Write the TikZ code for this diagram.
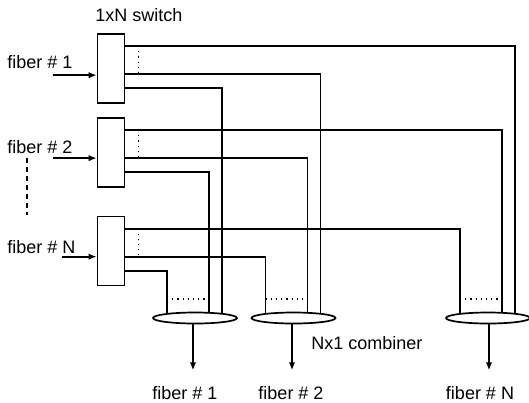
\documentclass[tikz,border=0pt]{standalone}
\usepackage{fontspec}
\setmainfont{Liberation Sans}
\usepackage{tikz}
\usetikzlibrary{arrows.meta,calc,shapes.geometric}
\pgfdeclarelayer{background}
\pgfsetlayers{background,main}
\tikzset{
  switchbox/.style={rectangle, draw, line width=0.85pt, fill=white,
                    minimum width=13.5pt, minimum height=34.5pt, inner sep=0pt},
  comb/.style={ellipse, draw, line width=0.85pt, fill=white,
               minimum width=42pt, minimum height=5.5pt, inner sep=0pt},
  fib/.style={line width=0.85pt},
  arr/.style={-{Latex[length=4pt,width=3.2pt]}, line width=0.85pt},
  port/.style={dotted, line width=0.6pt},
  lbl/.style={font=\fontsize{9}{11}\selectfont, inner sep=0pt},
}

\begin{document}
\begin{tikzpicture}[x=0.5pt, y=-0.5pt]
    \useasboundingbox (0,0) rectangle (529,402);
    % switches
    \node[switchbox] (sw1) at (111,68.5) {};
    \node[switchbox] (sw2) at (111,152.5) {};
    \node[switchbox] (swN) at (111,251) {};
    \node[lbl] (tsw) at (139,15) {1xN switch};
    % combiners
    \node[comb] (c1) at (195,318) {};
    \node[comb] (c2) at (293.5,318) {};
    \node[comb] (cN) at (488,318) {};
    \node[lbl] (tcomb) at (367,343) {Nx1 combiner};
    % input fibers
    \node[lbl, anchor=west] (in1) at (7,62) {fiber \# 1};
    \node[lbl, anchor=west] (in2) at (7,147) {fiber \# 2};
    \node[lbl, anchor=west] (inN) at (7,247) {fiber \# N};
    \draw[arr] ($(sw1.north west)+(-44,42)$) -- ($(sw1.north west)+(0,42)$);
    \draw[arr] ($(sw2.north west)+(-44,41)$) -- ($(sw2.north west)+(0,41)$);
    \draw[arr] ($(swN.north west)+(-35,41)$) -- ($(swN.north west)+(0,41)$);
    \draw[fib, dash pattern=on 2.5pt off 2pt] (27,158) -- (27,215);
    % output fibers
    \node[lbl] (o1) at (185,393) {fiber \# 1};
    \node[lbl] (o2) at (291,393) {fiber \# 2};
    \node[lbl] (oN) at (480,393) {fiber \# N};
    \draw[arr] ($(c1.south)+(-2,0)$) -- ++(0,46);
    \draw[arr] ($(c2.south)+(-1.5,0)$) -- ++(0,46);
    \draw[arr] ($(cN.south)+(1,0)$) -- ++(0,46);
    % switch outputs to combiners
    \begin{pgfonlayer}{background}
      \foreach \sw/\dx in {sw1/27, sw2/14, swN/-28} {
        \draw[fib] ($(\sw.north east)+(0,13)$) -| ($(cN.center)+(\dx,0)$);
        \draw[fib] ($(\sw.north east)+(0,41)$) -| ($(c2.center)+(\dx,0)$);
        \draw[fib] ($(\sw.north east)+(0,55)$) -| ($(c1.center)+(\dx,0)$);
        \draw[port] ($(\sw.north east)+(13,18)$) -- ($(\sw.north east)+(13,39)$);
      }
    \end{pgfonlayer}
    \foreach \c in {c1,c2,cN}
      \draw[port] ($(\c.center)+(-28,-19)$) -- ($(\c.center)+(14,-19)$);
  \end{tikzpicture}
\end{document}
